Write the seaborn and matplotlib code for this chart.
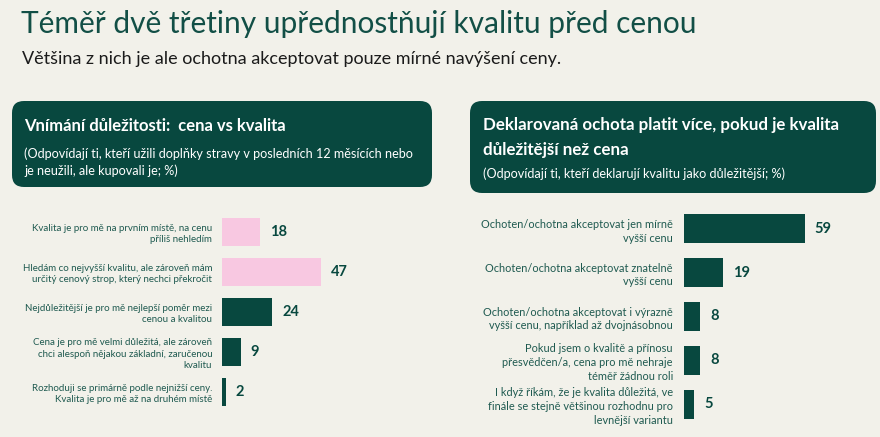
import matplotlib
matplotlib.use("Agg")
import matplotlib.pyplot as plt
from matplotlib.patches import FancyBboxPatch
import seaborn as sns

# data
title = "Téměř dvě třetiny upřednostňují kvalitu před cenou"
subtitle = "Většina z nich je ale ochotna akceptovat pouze mírné navýšení ceny."

left_title = "Vnímání důležitosti:  cena vs kvalita"
left_note = ["(Odpovídají ti, kteří užili doplňky stravy v posledních 12 měsících nebo",
             "je neužili, ale kupovali je; %)"]
left_labels = [
    "Kvalita je pro mě na prvním místě, na cenu\npříliš nehledím",
    "Hledám co nejvyšší kvalitu, ale zároveň mám\nurčitý cenový strop, který nechci překročit",
    "Nejdůležitější je pro mě nejlepší poměr mezi\ncenou a kvalitou",
    "Cena je pro mě velmi důležitá, ale zároveň\nchci alespoň nějakou základní, zaručenou\nkvalitu",
    "Rozhoduji se primárně podle nejnižší ceny.\nKvalita je pro mě až na druhém místě",
]
left_values = [18, 47, 24, 9, 2]
left_quality = [True, True, False, False, False]

right_title = ["Deklarovaná ochota platit více, pokud je kvalita",
               "důležitější než cena"]
right_note = ["(Odpovídají ti, kteří deklarují kvalitu jako důležitější; %)"]
right_labels = [
    "Ochoten/ochotna akceptovat jen mírně\nvyšší cenu",
    "Ochoten/ochotna akceptovat znatelně\nvyšší cenu",
    "Ochoten/ochotna akceptovat i výrazně\nvyšší cenu, například až dvojnásobnou",
    "Pokud jsem o kvalitě a přínosu\npřesvědčen/a, cena pro mě nehraje\ntéměř žádnou roli",
    "I když říkám, že je kvalita důležitá, ve\nfinále se stejně většinou rozhodnu pro\nlevnější variantu",
]
right_values = [59, 19, 8, 8, 5]

BG = "#f2f1ea"
GREEN = "#08483f"
PINK = "#f8c8e1"
LABEL = "#1f5a50"

sns.set_theme(style="white")
plt.rcParams["font.family"] = ["Lato", "DejaVu Sans"]

W, H = 880, 437
fig = plt.figure(figsize=(W / 100, H / 100), dpi=100, facecolor=BG)

# background axes in pixel coordinates
bg = fig.add_axes([0, 0, 1, 1])
bg.set_xlim(0, W)
bg.set_ylim(H, 0)
bg.axis("off")
bg.set_facecolor(BG)

bg.text(21, 33, title, fontsize=21.5, color="#124f46", va="baseline")
bg.text(22, 64, subtitle, fontsize=13, color="#1b1b1b", va="baseline")

for x0, x1, y0, y1 in [(12, 432, 101, 187), (470, 876, 101, 193)]:
    bg.add_patch(FancyBboxPatch((x0, y0), x1 - x0, y1 - y0,
                                boxstyle="round,pad=0,rounding_size=12",
                                facecolor=GREEN, edgecolor="none"))


def lines(x, y0, step, items, **kw):
    for i, s in enumerate(items):
        bg.text(x, y0 + i * step, s, color="white", va="baseline", **kw)


lines(24, 131, 0, [left_title], fontsize=12, fontweight="bold")
lines(24, 158, 17, left_note, fontsize=9.1)
lines(483, 130, 25, right_title, fontsize=12.2, fontweight="bold")
lines(483, 178, 0, right_note, fontsize=9.1)


def px_axes(left, top, width, height):
    return fig.add_axes([left / W, 1 - (top + height) / H, width / W, height / H])


def draw_bars(ax, labels, values, colors, bar_w, fs, pad):
    pal = dict(zip(labels, colors))
    sns.barplot(x=values, y=labels, hue=labels, palette=pal, legend=False,
                orient="h", width=bar_w, ax=ax, edgecolor="none", saturation=1)
    ax.set_xlim(0, 100)
    ax.set_ylim(len(labels) - 0.5, -0.5)
    ax.set_facecolor("none")
    for s in ax.spines.values():
        s.set_visible(False)
    ax.set_xticks([])
    ax.set_xlabel("")
    ax.set_ylabel("")
    ax.tick_params(axis="y", length=0, pad=pad, labelsize=fs, labelcolor=LABEL)
    for t in ax.get_yticklabels():
        t.set_linespacing(1.3)
    for c in ax.containers:
        ax.bar_label(c, padding=7, fontsize=10.5, fontweight="bold", color=GREEN)


axl = px_axes(222, 212, 210, 200)
draw_bars(axl, left_labels, left_values,
          [PINK if q else GREEN for q in left_quality], 0.68, 7.0, 7)

axr = px_axes(684, 207, 205, 219)
draw_bars(axr, right_labels, right_values, [GREEN] * len(right_labels), 0.66, 7.9, 8)

fig.savefig("out.png", dpi=100, facecolor=BG)
